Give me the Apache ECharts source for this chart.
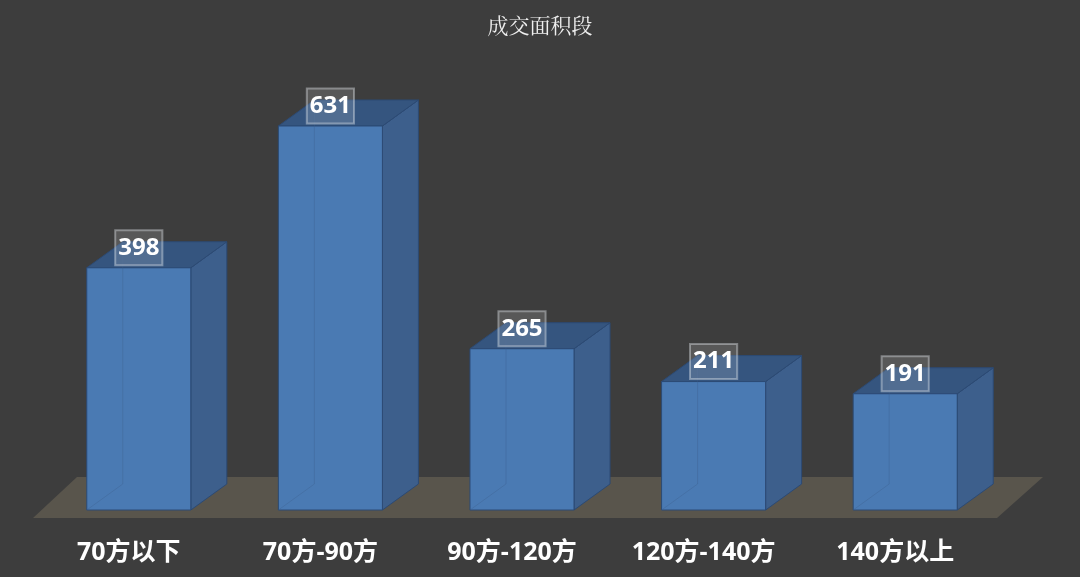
<!DOCTYPE html>
<html>
<head>
<meta charset="utf-8">
<script src="https://cdn.jsdelivr.net/npm/echarts@6/dist/echarts.min.js"></script>
<style>
  html, body { margin: 0; padding: 0; background: #3d3d3d; }
  #main { width: 1080px; height: 577px; }
</style>
</head>
<body>
<div id="main"></div>
<script>
// 数据
var categories = ['70方以下', '70方-90方', '90方-120方', '120方-140方', '140方以上']
var values = [398, 631, 265, 211, 191]
var titleText = '成交面积段'

var element = document.querySelector('#main')
var myChart = echarts.init(element)

// 3d 偏移
var DX = 36
var DY = -26

var renderFloor = (params, api) => {
    var cs = params.coordSys
    var base = api.coord([0, 0])[1]
    var l = cs.x, r = cs.x + cs.width
    return {
        type: 'polygon',
        shape: {
            points: [
                [l - 10, base + 8],
                [r - 4, base + 8],
                [r + 42, base - 33],
                [l + 34, base - 33],
            ]
        },
        style: { fill: '#59554c' },
        silent: true,
    }
}

var renderBar = (params, api) => {
    var idx = api.value(0)
    var v = api.value(1)
    var top = api.coord([idx, v])
    var base = api.coord([idx, 0])
    var w = api.size([1, 0])[0] * 0.543
    var l = top[0] - w / 2
    var r = top[0] + w / 2
    var t = top[1]
    var b = base[1]
    var edge = '#2c4a74'
    return {
        type: 'group',
        children: [
            {
                type: 'polygon',
                shape: { points: [[r, t], [r + DX, t + DY], [r + DX, b + DY], [r, b]] },
                style: { fill: '#3d5f8c', stroke: edge, lineWidth: 1 },
            },
            {
                type: 'polygon',
                shape: { points: [[l, t], [l + DX, t + DY], [r + DX, t + DY], [r, t]] },
                style: { fill: '#35557f', stroke: edge, lineWidth: 1 },
            },
            {
                type: 'rect',
                shape: { x: l, y: t, width: w, height: b - t },
                style: { fill: '#4a7ab3', stroke: edge, lineWidth: 1 },
            },
            {
                type: 'polyline',
                shape: { points: [[l, b], [l + DX, b + DY], [l + DX, t + DY]] },
                style: { stroke: 'rgba(60,95,140,0.35)', lineWidth: 1, fill: null },
            },
            {
                type: 'text',
                style: {
                    x: top[0],
                    y: t - 20,
                    text: String(v),
                    fill: '#ffffff',
                    fontSize: 24,
                    lineHeight: 26,
                    fontWeight: 'bold',
                    fontFamily: 'Open Sans, Noto Sans, sans-serif',
                    align: 'center',
                    verticalAlign: 'middle',
                    backgroundColor: 'rgba(255,255,255,0.14)',
                    borderColor: 'rgba(230,235,240,0.4)',
                    borderWidth: 1,
                    padding: [5, 3, 4, 3],
                },
            },
        ]
    }
}

var option = {
    backgroundColor: '#3d3d3d',
    animation: false,
    title: {
        text: titleText,
        left: 'center',
        top: 10,
        textStyle: {
            color: '#eeeeee',
            fontSize: 21,
            fontWeight: 'normal',
            fontFamily: 'Noto Serif CJK SC, Noto Sans CJK SC, serif',
        }
    },
    grid: {
        left: 43,
        width: 958,
        top: 84,
        bottom: 67,
    },
    xAxis: {
        type: 'category',
        data: categories,
        axisLine: { show: false },
        axisTick: { show: false },
        axisLabel: {
            margin: 30,
            color: '#ffffff',
            fontSize: 25,
            fontWeight: 'bold',
            fontFamily: 'Open Sans, Noto Sans CJK SC, sans-serif',
            padding: [0, 20, 0, 0],
        },
    },
    yAxis: {
        type: 'value',
        min: 0,
        max: 700,
        show: false,
        splitLine: { show: false },
    },
    series: [
        {
            type: 'custom',
            renderItem: renderFloor,
            data: [[0, 0]],
            z: 1,
            silent: true,
        },
        {
            type: 'custom',
            renderItem: renderBar,
            data: values.map((v, i) => [i, v]),
            z: 2,
        },
    ]
}

myChart.setOption(option)
</script>
</body>
</html>
